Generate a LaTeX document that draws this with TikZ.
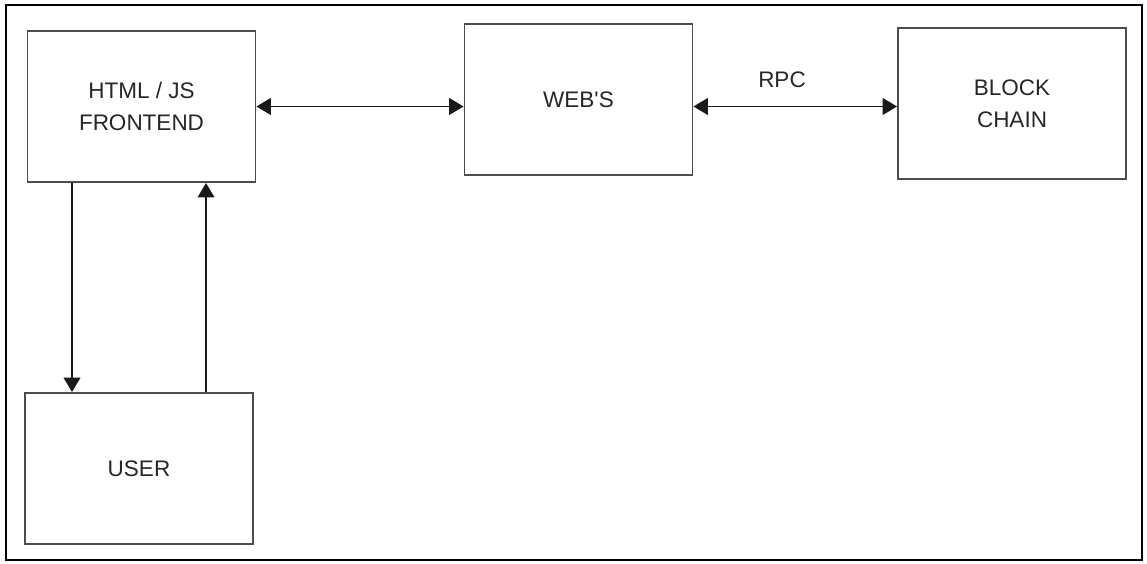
\documentclass[tikz,border=0pt]{standalone}
\usepackage{fontspec}
\setmainfont{Liberation Sans}
\usepackage{xcolor}
\usetikzlibrary{arrows.meta,positioning}

\begin{document}
\begin{tikzpicture}[
  x=0.025cm, y=-0.025cm,
  box/.style={draw=black!70, line width=1.3pt, minimum width=5.7cm, minimum height=3.78cm, inner sep=0pt, font=\fontsize{16}{22.7}\selectfont, text=black!85, align=center},
  link/.style={line width=1.1pt, black!90, {Triangle[length=0.36cm,width=0.42cm]}-{Triangle[length=0.36cm,width=0.42cm]}},
  flow/.style={line width=1.1pt, black!90, -{Triangle[length=0.36cm,width=0.42cm]}}
]
\useasboundingbox (0,0) rectangle (1147,564);
\draw[line width=2pt] (6,5) rectangle (1142,560);

\node[box] (front) at (141.5,106.5) {HTML / JS\\FRONTEND};
\node[box] (webs) at (578.5,99.5) {WEB\textquotesingle S};
\node[box] (chain) at (1012,103.5) {BLOCK\\CHAIN};
\node[box] (user) at (139,468.5) {USER};
\node[font=\fontsize{16}{20}\selectfont, text=black!85] (rpc) at (782,80) {RPC};

\coordinate (down) at (72,0);
\coordinate (up) at (206,0);

\draw[link] (front.east) -- (front.east -| webs.west);
\draw[link] (front.east -| webs.east) -- (front.east -| chain.west);
\draw[flow] (front.south -| down) -- (user.north -| down);
\draw[flow] (user.north -| up) -- (front.south -| up);

\end{tikzpicture}
\end{document}
